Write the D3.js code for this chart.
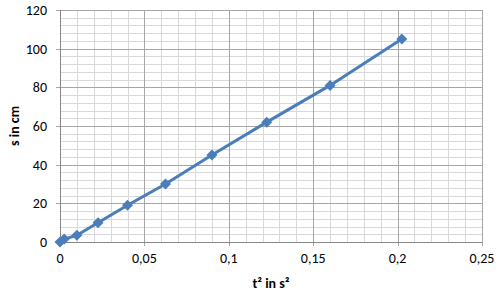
<!DOCTYPE html>
<html><head><meta charset="utf-8">
<script src="https://cdn.jsdelivr.net/npm/d3@7"></script>
<style>body{margin:0;background:#fff}svg{display:block}</style>
</head><body>
<svg id="c" width="500" height="297"></svg>
<script>
const xValues = [0, 0.0025, 0.01, 0.0225, 0.04, 0.0625, 0.09, 0.1225, 0.16, 0.2025];
const yValues = [0, 1.5, 3.5, 10, 19, 30, 45, 62, 81, 105];
const xTicks = [0, 0.05, 0.1, 0.15, 0.2, 0.25];
const xTickLabels = ["0", "0,05", "0,1", "0,15", "0,2", "0,25"];
const yTicks = [0, 20, 40, 60, 80, 100, 120];
const xTitle = "t² in s²";
const yTitle = "s in cm";

const svg = d3.select("#c");
const L = 60, R = 482, T = 10, B = 242;
const x = d3.scaleLinear().domain([0, 0.25]).range([L, R]);
const y = d3.scaleLinear().domain([0, 120]).range([B, T]);
const font = "Carlito, 'Liberation Sans', Arial, sans-serif";

// minor grid
const xMinor = d3.range(0, 0.2501, 0.01);
const yMinor = d3.range(0, 120.01, 4);
svg.append("g").selectAll("line").data(xMinor).join("line")
  .attr("x1", d => Math.round(x(d)) + 0.5).attr("x2", d => Math.round(x(d)) + 0.5)
  .attr("y1", T).attr("y2", B).attr("stroke", "#d9d9d9").attr("stroke-width", 1);
svg.append("g").selectAll("line").data(yMinor).join("line")
  .attr("y1", d => Math.round(y(d)) + 0.5).attr("y2", d => Math.round(y(d)) + 0.5)
  .attr("x1", L).attr("x2", R).attr("stroke", "#d9d9d9").attr("stroke-width", 1);
// major grid
svg.append("g").selectAll("line").data(xTicks).join("line")
  .attr("x1", d => Math.round(x(d)) + 0.5).attr("x2", d => Math.round(x(d)) + 0.5)
  .attr("y1", T).attr("y2", B + 4).attr("stroke", "#a6a6a6").attr("stroke-width", 1);
svg.append("g").selectAll("line").data(yTicks).join("line")
  .attr("y1", d => Math.round(y(d)) + 0.5).attr("y2", d => Math.round(y(d)) + 0.5)
  .attr("x1", L - 4).attr("x2", R).attr("stroke", "#a6a6a6").attr("stroke-width", 1);
// axes lines
svg.append("line").attr("x1", L).attr("x2", R).attr("y1", B + 0.5).attr("y2", B + 0.5).attr("stroke", "#868686");
svg.append("line").attr("x1", L + 0.5).attr("x2", L + 0.5).attr("y1", T).attr("y2", B).attr("stroke", "#868686");

// tick labels
svg.append("g").selectAll("text").data(yTicks).join("text")
  .attr("x", 47).attr("y", d => y(d)).attr("dy", "0.35em")
  .attr("text-anchor", "end").attr("font-family", font).attr("font-size", 14).attr("fill", "#000")
  .text(d => d);
svg.append("g").selectAll("text").data(xTicks).join("text")
  .attr("x", d => x(d)).attr("y", 263)
  .attr("text-anchor", "middle").attr("font-family", font).attr("font-size", 14).attr("fill", "#000")
  .text((d, i) => xTickLabels[i]);

// titles
svg.append("text").attr("x", 271).attr("y", 288).attr("text-anchor", "middle")
  .attr("font-family", font).attr("font-size", 14).attr("font-weight", "bold").text(xTitle);
svg.append("text").attr("transform", "translate(19," + 126 + ") rotate(-90)").attr("text-anchor", "middle")
  .attr("font-family", font).attr("font-size", 14).attr("font-weight", "bold").text(yTitle);

// series
const pts = xValues.map((v, i) => [v, yValues[i]]);
const color = "#4a7ebb";
svg.append("path").datum(pts)
  .attr("d", d3.line().x(d => x(d[0])).y(d => y(d[1])))
  .attr("fill", "none").attr("stroke", color).attr("stroke-width", 3).attr("stroke-linejoin", "round");
svg.append("g").selectAll("path").data(pts).join("path")
  .attr("transform", d => `translate(${x(d[0])},${y(d[1])})`)
  .attr("d", "M0,-5.5L5.5,0L0,5.5L-5.5,0Z").attr("fill", color);
</script>
</body></html>
